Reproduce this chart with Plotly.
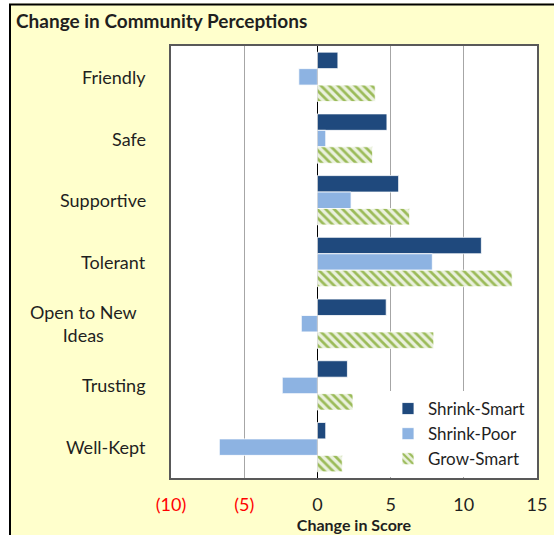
import plotly.graph_objects as go

categories = ["Friendly", "Safe", "Supportive", "Tolerant", "Open to New Ideas", "Trusting", "Well-Kept"]
category_labels = ["Friendly", "Safe", "Supportive", "Tolerant", "Open to New<br>Ideas", "Trusting", "Well-Kept"]
shrink_smart = [1.4, 4.75, 5.55, 11.2, 4.7, 2.05, 0.57]
shrink_poor = [-1.27, 0.57, 2.3, 7.85, -1.1, -2.4, -6.7]
grow_smart = [3.95, 3.77, 6.3, 13.3, 7.95, 2.43, 1.7]
tick_vals = [-10, -5, 0, 5, 10, 15]
tick_text = ['<span style="color:#FF0000">(10)</span>', '<span style="color:#FF0000">(5)</span>', "0", "5", "10", "15"]

FONT = "Lato"
TXT = "#1f1f1f"
W, H = 554, 535
L, R, T, B = 171, 17, 46, 57
pw, ph = W - L - R, H - T - B

def px_x(x):
    return (x - L) / pw

def px_y(y):
    return (H - B - y) / ph

fig = go.Figure()
fig.add_trace(go.Bar(y=categories, x=shrink_smart, orientation="h", name="Shrink-Smart",
                     marker=dict(color="#1F497D", line=dict(color="white", width=0.8))))
fig.add_trace(go.Bar(y=categories, x=shrink_poor, orientation="h", name="Shrink-Poor",
                     marker=dict(color="#8DB3E2", line=dict(color="white", width=0.8))))
fig.add_trace(go.Bar(y=categories, x=grow_smart, orientation="h", name="Grow-Smart",
                     marker=dict(color="#EAF1DD", line=dict(color="white", width=0.8),
                                 pattern=dict(shape="\\", fgcolor="#9BBB59", bgcolor="#EAF1DD",
                                              size=6, solidity=0.45, fillmode="replace"))))

annotations = []
for cat, lab in zip(categories, category_labels):
    if "<br>" in lab:
        annotations.append(dict(x=px_x(83), y=cat, xref="paper", yref="y", text=lab,
                                showarrow=False, xanchor="center", align="center",
                                font=dict(family=FONT, size=18, color=TXT)))
    else:
        annotations.append(dict(x=px_x(148), y=cat, xref="paper", yref="y", text=lab,
                                showarrow=False, xanchor="right", align="right",
                                font=dict(family=FONT, size=18, color=TXT)))

fig.update_layout(
    width=W, height=H,
    margin=dict(l=L, r=R, t=T, b=B, autoexpand=False),
    paper_bgcolor="#FFFFCC",
    plot_bgcolor="white",
    barmode="group", bargap=0.2, bargroupgap=0,
    font=dict(family=FONT, color=TXT),
    title=dict(text="<b>Change in Community Perceptions</b>", xref="container", yref="container",
               x=16 / W, y=1 - 21 / H, xanchor="left", yanchor="middle",
               font=dict(family=FONT, size=19, color=TXT)),
    xaxis=dict(range=[-10, 15], tickvals=tick_vals, ticktext=tick_text,
               showgrid=True, gridcolor="#A6A6A6", gridwidth=1,
               zeroline=True, zerolinecolor="black", zerolinewidth=1,
               showline=True, linecolor="#595959", linewidth=1.5, mirror=True,
               ticks="", ticklabelstandoff=10, automargin=False,
               tickfont=dict(family=FONT, size=18, color=TXT),
               title=dict(text="<b>Change in Score</b>", standoff=0,
                          font=dict(family=FONT, size=16, color=TXT))),
    yaxis=dict(type="category", categoryorder="array", categoryarray=categories,
               autorange="reversed", showticklabels=False, showgrid=False, automargin=False,
               showline=True, linecolor="#595959", linewidth=1.5, mirror=True, ticks=""),
    legend=dict(x=px_x(388), y=px_y(391), xanchor="left", yanchor="top",
                bgcolor="white", font=dict(family=FONT, size=17, color=TXT),
                tracegroupgap=0),
    annotations=annotations,
    showlegend=True,
)

# white strips outside the chart border (left and top) and the border itself
fig.add_shape(type="rect", xref="paper", yref="paper", x0=px_x(-5), x1=px_x(9), y0=px_y(560), y1=px_y(-5),
              fillcolor="white", line=dict(width=0), layer="below")
fig.add_shape(type="rect", xref="paper", yref="paper", x0=px_x(-5), x1=px_x(560), y0=px_y(3.5), y1=px_y(-5),
              fillcolor="white", line=dict(width=0), layer="below")
fig.add_shape(type="rect", xref="paper", yref="paper", x0=px_x(10), x1=px_x(570), y0=px_y(560), y1=px_y(4.5),
              line=dict(color="black", width=2), fillcolor="rgba(0,0,0,0)", layer="below")

fig.write_html("out.html", config={"displayModeBar": False},
               post_script="document.body.style.margin='0px';document.body.style.overflow='hidden';")
